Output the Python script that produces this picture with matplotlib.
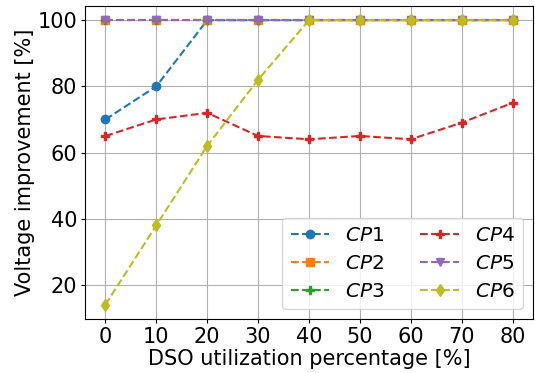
import numpy as np
import matplotlib
matplotlib.use("Agg")
import matplotlib.pyplot as plt

x = [0, 10, 20, 30, 40, 50, 60, 70, 80]
cp1 = [70, 80, 100, 100, 100, 100, 100, 100, 100]
cp2 = [100, 100, 100, 100, 100, 100, 100, 100, 100]
cp3 = [100, 100, 100, 100, 100, 100, 100, 100, 100]
cp4 = [65, 70, 72, 65, 64, 65, 64, 69, 75]
cp5 = [100, 100, 100, 100, 100, 100, 100, 100, 100]
cp6 = [14, 38, 62, 82, 100, 100, 100, 100, 100]

series = [cp1, cp2, cp3, cp4, cp5, cp6]
names = ['$CP1$', '$CP2$', '$CP3$', '$CP4$', '$CP5$', '$CP6$']
markers = ['o', 's', 'P', 'P', 'v', 'd']
colors = ['tab:blue', 'tab:orange', 'tab:green', 'tab:red', 'tab:purple', 'tab:olive']

plt.rcParams['font.size'] = 15
plt.rcParams['xtick.major.size'] = 3
plt.rcParams['ytick.major.size'] = 3
plt.rcParams['xtick.major.pad'] = 2.5
plt.rcParams['ytick.major.pad'] = 2.5

fig, ax = plt.subplots(figsize=(5.35, 3.73), dpi=100)
for y, n, m, c in zip(series, names, markers, colors):
    ax.plot(x, y, '--', marker=m, color=c, label=n, markersize=6)

ax.set_xticks(x)
ax.set_yticks([20, 40, 60, 80, 100])
ax.grid(True)
ax.set_xlabel('DSO utilization percentage [%]', labelpad=2)
ax.set_ylabel('Voltage improvement [%]', labelpad=2)
ax.legend(ncol=2, loc='lower right', fontsize=14.5, labelspacing=0.45,
          handlelength=1.9, columnspacing=1.8)
fig.subplots_adjust(left=0.159, right=0.996, top=0.984, bottom=0.145)
fig.savefig('out.png')
